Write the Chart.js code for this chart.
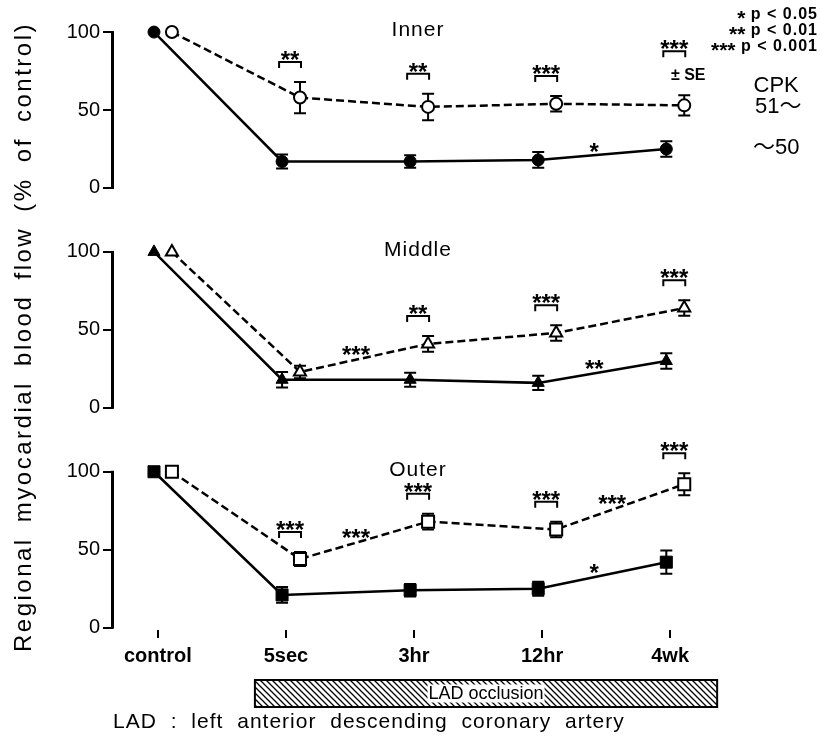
<!DOCTYPE html>
<html><head><meta charset="utf-8">
<script src="https://cdn.jsdelivr.net/npm/chart.js@4.4.1/dist/chart.umd.min.js"></script>
<style>html,body{margin:0;padding:0;background:#fff;}canvas{display:block;}</style>
</head><body>
<canvas id="c" width="821" height="740"></canvas>
<script>
// ---------- data ----------
const categories = ['control', '5sec', '3hr', '12hr', '4wk'];
const panelTitles = ['Inner', 'Middle', 'Outer'];
const yTickValues = [0, 50, 100];

// CPK ~50 : filled markers, solid line
const innerLow = [100, 17, 17, 18, 25];
const innerLowSE = [0, 4.5, 4, 5, 5];
// CPK 51~ : open markers, dashed line
const innerHigh = [100, 58, 52, 54, 53];
const innerHighSE = [0, 10, 8.5, 5, 6.5];

const middleLow = [100, 18, 18, 16, 30];
const middleLowSE = [0, 5, 4.5, 4.5, 5];
const middleHigh = [100, 23, 41, 48, 64];
const middleHighSE = [0, 4, 5, 5, 5];

const outerLow = [100, 21, 24, 25, 42];
const outerLowSE = [0, 5, 4, 4.5, 7.5];
const outerHigh = [100, 44, 68, 63, 92];
const outerHighSE = [0, 4.5, 5, 5, 7];

// significance between groups at each time point
const innerPairSig = ['', '**', '**', '***', '***'];
const middlePairSig = ['', '', '**', '***', '***'];
const outerPairSig = ['', '***', '***', '***', '***'];
// significance of change along a segment (point i -> i+1)
const innerLowTrend = ['', '', '', '*'];
const innerHighTrend = ['', '', '', ''];
const middleLowTrend = ['', '', '', '**'];
const middleHighTrend = ['', '***', '', ''];
const outerLowTrend = ['', '', '', '*'];
const outerHighTrend = ['', '***', '', '***'];

const pStars = ['*', '**', '***'];
const pLabels = [' p < 0.05', ' p < 0.01', ' p < 0.001'];
const cpkLabels = ['CPK', '51～', '～50'];
const seNote = '± SE';
const occlusionLabel = 'LAD occlusion';
const footnote = 'LAD : left anterior descending coronary artery';
const yTitle = 'Regional myocardial blood flow (% of control)';

// ---------- style / layout ----------
const FF = "'Liberation Sans', Arial, 'Noto Sans CJK JP', sans-serif";
const X_LOW = -0.03, X_HIGH = 0.11;
const Y_MIN = -1.5;
const panelDefs = [
  {axis: 'yInner', title: panelTitles[0], low: innerLow, lowSE: innerLowSE, high: innerHigh, highSE: innerHighSE,
   pair: innerPairSig, lowTrend: innerLowTrend, highTrend: innerHighTrend, marker: 'circle', r: 6, max: 118, weight: 3, seAt: 4},
  {axis: 'yMiddle', title: panelTitles[1], low: middleLow, lowSE: middleLowSE, high: middleHigh, highSE: middleHighSE,
   pair: middlePairSig, lowTrend: middleLowTrend, highTrend: middleHighTrend, marker: 'triangle', r: 7, max: 139.5, weight: 2, seAt: -1},
  {axis: 'yOuter', title: panelTitles[2], low: outerLow, lowSE: outerLowSE, high: outerHigh, highSE: outerHighSE,
   pair: outerPairSig, lowTrend: outerLowTrend, highTrend: outerHighTrend, marker: 'rect', r: 8.5, max: 139.5, weight: 1, seAt: -1}
];

const datasets = [];
panelDefs.forEach(p => {
  datasets.push({
    label: p.title + ' ～50', yAxisID: p.axis, xAxisID: 'x',
    data: p.low.map((v, i) => ({x: i + X_LOW, y: v})),
    borderColor: '#000', borderWidth: 2.5, fill: false, tension: 0, clip: false,
    pointStyle: p.marker, pointRadius: p.r, pointBackgroundColor: '#000', pointBorderColor: '#000', pointBorderWidth: 1
  });
  datasets.push({
    label: p.title + ' 51～', yAxisID: p.axis, xAxisID: 'x',
    data: p.high.map((v, i) => ({x: i + X_HIGH, y: v})),
    borderColor: '#000', borderWidth: 2.5, borderDash: [8, 4], fill: false, tension: 0, clip: false,
    pointStyle: p.marker, pointRadius: p.r, pointBackgroundColor: '#fff', pointBorderColor: '#000', pointBorderWidth: 2
  });
});

const scales = {
  x: {
    type: 'linear', min: -0.35, max: 4.6,
    afterBuildTicks: s => { s.ticks = categories.map((c, i) => ({value: i})); },
    ticks: {callback: v => categories[v] ?? '', font: {family: FF, size: 20, weight: 'bold'}, color: '#000',
            padding: 6, autoSkip: false, maxRotation: 0, minRotation: 0},
    grid: {drawOnChartArea: false, drawTicks: true, tickLength: 8, lineWidth: 2, color: '#000'},
    border: {display: false},
    afterFit: s => { s.height = 110; s.paddingLeft = 0; s.paddingRight = 0; }
  }
};
panelDefs.forEach(p => {
  scales[p.axis] = {
    type: 'linear', position: 'left', stack: 'panels', stackWeight: p.max - Y_MIN, weight: p.weight,
    min: Y_MIN, max: p.max,
    afterBuildTicks: s => { s.ticks = yTickValues.map(v => ({value: v})); },
    ticks: {callback: v => String(v), font: {family: FF, size: 20}, color: '#000', padding: 3, autoSkip: false},
    grid: {drawOnChartArea: false, drawTicks: true, tickLength: 10, lineWidth: 2, color: '#000'},
    border: {display: false},
    afterFit: s => { s.width = 113; s.paddingTop = 0; s.paddingBottom = 0; }
  };
});

function txt(ctx, s, x, y, font, align, base, ls, ws) {
  ctx.font = font; ctx.textAlign = align || 'center'; ctx.textBaseline = base || 'middle';
  if ('letterSpacing' in ctx) ctx.letterSpacing = ls || '0px';
  if ('wordSpacing' in ctx) ctx.wordSpacing = ws || '0px';
  ctx.fillText(s, x, y);
  if ('letterSpacing' in ctx) ctx.letterSpacing = '0px';
  if ('wordSpacing' in ctx) ctx.wordSpacing = '0px';
}
function starText(ctx, s, x, yc, size, align) {
  ctx.font = `bold ${size || 24}px ${FF}`; ctx.textAlign = align || 'center'; ctx.textBaseline = 'alphabetic';
  if ('letterSpacing' in ctx) ctx.letterSpacing = '0px';
  const m = ctx.measureText(s);
  ctx.fillText(s, x, yc + (m.actualBoundingBoxAscent - m.actualBoundingBoxDescent) / 2);
}
function hatchPattern(ctx) {
  const c = document.createElement('canvas'); c.width = 6; c.height = 6;
  const g = c.getContext('2d');
  g.fillStyle = '#fff'; g.fillRect(0, 0, 6, 6);
  g.strokeStyle = '#000'; g.lineWidth = 1.3;
  g.beginPath();
  g.moveTo(-1, -1); g.lineTo(7, 7);
  g.moveTo(-1, 5); g.lineTo(1, 7);
  g.moveTo(5, -1); g.lineTo(7, 1);
  g.stroke();
  return ctx.createPattern(c, 'repeat');
}

const annot = {
  id: 'annot',
  beforeDatasetsDraw(chart) {
    const ctx = chart.ctx, xs = chart.scales.x;
    ctx.save();
    ctx.strokeStyle = '#000'; ctx.lineWidth = 2;
    panelDefs.forEach(p => {
      const ys = chart.scales[p.axis];
      [[p.low, p.lowSE, X_LOW], [p.high, p.highSE, X_HIGH]].forEach(([vals, se, off]) => {
        vals.forEach((v, i) => {
          if (!se[i]) return;
          const x = xs.getPixelForValue(i + off);
          const yt = ys.getPixelForValue(v + se[i]), yb = ys.getPixelForValue(v - se[i]);
          ctx.beginPath();
          ctx.moveTo(x, yt); ctx.lineTo(x, yb);
          ctx.moveTo(x - 6, yt); ctx.lineTo(x + 6, yt);
          ctx.moveTo(x - 6, yb); ctx.lineTo(x + 6, yb);
          ctx.stroke();
        });
      });
    });
    ctx.restore();
  },
  afterDraw(chart) {
    const ctx = chart.ctx, xs = chart.scales.x, ca = chart.chartArea;
    ctx.save();
    ctx.fillStyle = '#000'; ctx.strokeStyle = '#000';
    panelDefs.forEach(p => {
      const ys = chart.scales[p.axis];
      // axis line 0..100
      ctx.lineWidth = 3; ctx.beginPath();
      ctx.moveTo(ca.left - 0.5, ys.getPixelForValue(100) - 1);
      ctx.lineTo(ca.left - 0.5, ys.getPixelForValue(0) + 1);
      ctx.stroke();
      // panel title
      txt(ctx, p.title, xs.getPixelForValue(2) + 4, ys.getPixelForValue(100) - 2, `21px ${FF}`, 'center', 'middle', '1px');
      // pair brackets
      p.pair.forEach((s, i) => {
        if (!s) return;
        const xl = xs.getPixelForValue(i + X_LOW) - 3, xr = xs.getPixelForValue(i + X_HIGH) + 1;
        const errTop = Math.min(ys.getPixelForValue(p.high[i] + p.highSE[i]), ys.getPixelForValue(p.low[i] + p.lowSE[i]));
        let top = errTop - 20;
        if (p.seAt === i) {
          const sy = errTop - 20;
          txt(ctx, seNote, xr + 3, sy, `bold 16px ${FF}`, 'center', 'middle');
          top = sy - 24;
        }
        ctx.lineWidth = 2; ctx.beginPath();
        ctx.moveTo(xl, top + 6); ctx.lineTo(xl, top); ctx.lineTo(xr, top); ctx.lineTo(xr, top + 6);
        ctx.stroke();
        starText(ctx, s, (xl + xr) / 2, top - 6.5);
      });
      // trend stars
      [[p.low, p.lowTrend, X_LOW], [p.high, p.highTrend, X_HIGH]].forEach(([vals, tr, off]) => {
        tr.forEach((s, j) => {
          if (!s) return;
          const mx = (xs.getPixelForValue(j + off) + xs.getPixelForValue(j + 1 + off)) / 2 - 8;
          const my = (ys.getPixelForValue(vals[j]) + ys.getPixelForValue(vals[j + 1])) / 2 - 7;
          starText(ctx, s, mx, my);
        });
      });
    });
    // CPK labels next to inner panel series ends
    const yi = chart.scales.yInner, last = categories.length - 1;
    const lx = xs.getPixelForValue(last) + 106;
    const yHigh = yi.getPixelForValue(innerHigh[last]) + 2;
    txt(ctx, cpkLabels[0], lx, yHigh - 21, `22px ${FF}`);
    txt(ctx, cpkLabels[1], lx + 2, yHigh, `22px ${FF}`);
    txt(ctx, cpkLabels[2], lx, yi.getPixelForValue(innerLow[last]) - 1, `22px ${FF}`);
    // p-value legend
    pLabels.forEach((s, k) => {
      const y = 15 + 16 * k, rx = chart.width - 3;
      ctx.font = `bold 16px ${FF}`;
      if ('letterSpacing' in ctx) ctx.letterSpacing = '1px';
      const wr = ctx.measureText(s).width;
      txt(ctx, s, rx, y, `bold 16px ${FF}`, 'right', 'middle', '1px');
      starText(ctx, pStars[k], rx - wr, y, 21, 'right');
    });
    // y title
    ctx.save();
    ctx.translate(31, 337); ctx.rotate(-Math.PI / 2);
    txt(ctx, yTitle, 0, 0, `24px ${FF}`, 'center', 'alphabetic', '2.5px', '6px');
    ctx.restore();
    // occlusion bar
    const bl = xs.getPixelForValue(1) - 31, br = xs.getPixelForValue(4) + 47;
    const bt = ca.bottom + 50, bb = bt + 27;
    ctx.fillStyle = hatchPattern(ctx); ctx.fillRect(bl, bt, br - bl, bb - bt);
    ctx.lineWidth = 2; ctx.strokeRect(bl, bt, br - bl, bb - bt);
    ctx.font = `18px ${FF}`;
    const w = ctx.measureText(occlusionLabel).width;
    const cx = (bl + br) / 2, cy = (bt + bb) / 2;
    ctx.fillStyle = '#fff'; ctx.fillRect(cx - w / 2 - 1, cy - 9, w + 2, 18);
    ctx.fillStyle = '#000';
    txt(ctx, occlusionLabel, cx, cy + 1, `18px ${FF}`, 'center', 'middle');
    // footnote
    txt(ctx, footnote, ca.left, ca.bottom + 98, `21px ${FF}`, 'left', 'alphabetic', '1px', '7px');
    ctx.restore();
  }
};

new Chart(document.getElementById('c'), {
  type: 'line',
  data: {datasets},
  options: {
    responsive: false, animation: false, devicePixelRatio: 1,
    layout: {autoPadding: false, padding: {top: 4, left: 0, right: 74, bottom: 0}},
    plugins: {legend: {display: false}, tooltip: {enabled: false}},
    scales
  },
  plugins: [annot]
});
</script>
</body></html>
